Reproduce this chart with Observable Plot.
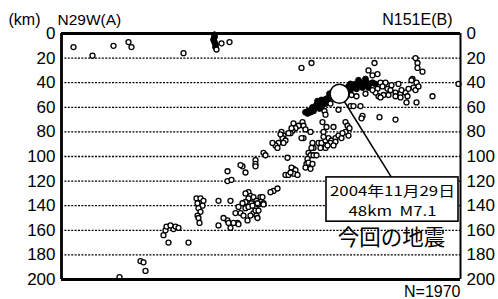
<!DOCTYPE html>
<html><head><meta charset="utf-8">
<script src="https://cdn.jsdelivr.net/npm/d3@7"></script>
<script src="https://cdn.jsdelivr.net/npm/@observablehq/plot@0.6"></script>
<style>body{margin:0;background:#fff} svg{display:block}</style>
</head><body><div id="chart"></div>
<script>
// depth axis (km)
const depthTicks = [0, 20, 40, 60, 80, 100, 120, 140, 160, 180, 200];
const gridDepths = [20, 40, 60, 80, 100, 120, 140, 160, 180];
// hypocentres: [distance along section A->B, depth km]
const eventPoints = [
  [12,11],[31,18],[52,10],[67,7],[70,11],[122,16],[160,8],[168,7],[155,13],
  [240,28],[250,24],[313,24],[307,30],[311,34],[316,33],[354,20],[356,24],[356,28],[361,31],[351,37],[355,40],[352,44],[354,46],[397,41],[371,51],[355,56],[345,56],
  [319,40],[324,40],[321,43],[316,45],[326,45],[329,46],[334,48],[339,49],[344,48],[346,51],[327,50],[322,50],[317,51],[334,51],[330,42],[340,46],[347,45],[339,52],[319,52],[314,48],[350,38],[357,43],[337,41],[311,46],[304,49],
  [269,57],[263,63],[264,66],[277,62],[290,50],[295,51],[289,59],[292,59],[299,59],[301,67],[300,69],[318,68],[334,70],[241,72],[242,75],[244,78],[261,72],[265,76],[272,76],[284,72],[286,75],[288,77],[262,80],[242,85],[251,89],
  [257,89],[260,89],[264,87],[267,85],[270,87],[274,85],[277,83],[280,85],[269,89],[274,88],[264,93],[259,93],[284,80],[287,83],[252,93],[266,91],[272,91],[281,81],[262,84],
  [232,73],[237,75],[234,77],[231,79],[229,81],[222,83],[221,85],[224,87],[217,89],[214,91],[211,89],[216,93],[222,89],[227,81],[230,77],[220,80],[219,82],[249,80],[250,93],[240,85],
  [202,97],[204,99],[194,103],[194,106],[194,108],[181,108],[226,101],[232,110],[166,112],[166,120],[170,119],[179,107],[184,113],
  [247,97],[249,99],[252,99],[255,99],[246,102],[245,106],[244,109],[247,105],[251,106],[249,110],[230,109],[234,111],[232,114],[224,115],[227,115],[229,113],[236,115],
  [212,128],[216,126],[209,129],
  [187,129],[189,132],[192,133],[195,136],[199,133],[202,138],[190,138],[194,142],[197,139],[192,146],[195,148],[189,148],[187,134],[184,137],[181,138],[177,141],[174,146],[179,146],[184,142],[187,141],[191,140],[196,138],[201,133],[202,139],[194,144],[197,144],[196,150],[186,152],[182,148],[176,154],[166,152],[162,150],[157,156],[167,154],[169,158],[177,155],[157,136],[169,136],[184,130],[172,154],
  [135,134],[139,134],[142,136],[136,138],[141,140],[137,142],[139,145],[136,148],[137,150],[138,154],
  [102,164],[104,160],[105,157],[107,170],[112,159],[114,157],[117,158],[109,156],[127,170],
  [58,198],[79,185],[82,186],[84,193]
];
// densely overlapping hypocentres (appear solid black)
const densePoints = [
  [153,1],[153,3],[152,5],[153,7],[154,9],[154,11],
  [244,64],[247,63],[250,62],[249,64],[253,60],[255,58],[257,59],[259,56],[261,58],[263,54],[265,53],[267,55],[269,51],[271,50],[268,49],[273,46],[252,63],[246,65],[260,54],[256,55],[251,60],[258,61],[264,57],
  [287,43],[289,41],[292,43],[294,41],[297,42],[299,40],[302,41],[305,40],[308,41],[311,40],[314,41],[289,46],[295,45],[301,44],[285,46],[283,45],[307,44],[297,38],[304,37]
];
const mainShock = [{dist: 278, depth: 49}];
const calloutLink = [{x1: 278, y1: 49, x2: 330, y2: 117}];
const calloutBox = [{x1: 265, x2: 397, y1: 117, y2: 153}];
const calloutLines = ["2004年11月29日", "48km\u00a0\u00a0M7.1"];
const calloutDepths = [128.6, 144.6];
const quakeLabel = ["今回の地震"];
const unitLabel = ["(km)"];
const leftEnd = ["N29W(A)"];
const rightEnd = ["N151E(B)"];
const countLabel = ["N=1970"];

const ev = eventPoints.map(([dist, depth]) => ({dist, depth}));
const dn = densePoints.map(([dist, depth]) => ({dist, depth}));
const lines = calloutLines.map((t, i) => ({t, dist: 331, depth: calloutDepths[i]}));

const sans = "'Liberation Sans', Arial, sans-serif";
const chart = Plot.plot({
  width: 498, height: 299,
  marginLeft: 61, marginRight: 38, marginTop: 33, marginBottom: 20,
  x: {domain: [0, 399], axis: null},
  y: {domain: [0, 200], reverse: true, axis: null},
  style: {fontFamily: sans, background: "#fff", color: "#000", overflow: "visible"},
  marks: [
    Plot.ruleY(gridDepths, {stroke: "#000", strokeWidth: 1.3, strokeDasharray: "2,1.4"}),
    Plot.axisY({anchor: "left", ticks: depthTicks, tickSize: 0, tickPadding: 6, fontSize: 17, label: null}),
    Plot.axisY({anchor: "right", ticks: depthTicks, tickSize: 0, tickPadding: 6, fontSize: 17, label: null}),
    Plot.dot(dn, {x: "dist", y: "depth", r: 2.9, fill: "#000", stroke: "#000", strokeWidth: 1}),
    Plot.dot(ev, {x: "dist", y: "depth", r: 2.5, fill: "#fff", stroke: "#000", strokeWidth: 1.3}),
    Plot.link(calloutLink, {x1: "x1", y1: "y1", x2: "x2", y2: "y2", stroke: "#000", strokeWidth: 1.5}),
    Plot.dot(mainShock, {x: "dist", y: "depth", r: 9.5, fill: "#fff", stroke: "#000", strokeWidth: 1.6}),
    Plot.rect(calloutBox, {x1: "x1", x2: "x2", y1: "y1", y2: "y2", fill: "#fff", stroke: "#000", strokeWidth: 1.6}),
    Plot.text(lines, {x: "dist", y: "depth", text: "t", fontSize: 13.5, fontFamily: "'Noto Sans CJK JP', sans-serif", fill: "#000"}),
    Plot.text(quakeLabel, {x: 330, y: 166.5, text: d => d, fontSize: 21.5, fontFamily: "'Noto Sans CJK JP', sans-serif", fill: "#000"}),
    Plot.ruleY([0], {stroke: "#000", strokeWidth: 2.8}),
    Plot.ruleY([200], {stroke: "#000", strokeWidth: 2.8}),
    Plot.ruleX([0], {stroke: "#000", strokeWidth: 2.8}),
    Plot.ruleX([399], {stroke: "#000", strokeWidth: 2}),
    Plot.text(unitLabel, {frameAnchor: "top-left", text: d => d, dx: -53, dy: -9, lineAnchor: "bottom", textAnchor: "start", fontSize: 16}),
    Plot.text(leftEnd, {frameAnchor: "top-left", text: d => d, dx: -4, dy: -9, lineAnchor: "bottom", textAnchor: "start", fontSize: 15.5}),
    Plot.text(rightEnd, {frameAnchor: "top-right", text: d => d, dx: -8, dy: -9, lineAnchor: "bottom", textAnchor: "end", fontSize: 16}),
    Plot.text(countLabel, {frameAnchor: "bottom-right", text: d => d, dx: 0, dy: 17, lineAnchor: "bottom", textAnchor: "end", fontSize: 16})
  ]
});
document.getElementById("chart").appendChild(chart);
// condense callout lines like the original narrow typeface
const widths = {"2004年11月29日": 125, "48km\u00a0\u00a0M7.1": 88};
d3.select(chart).selectAll("text").each(function() {
  const t = this.textContent;
  if (widths[t]) { this.setAttribute("textLength", widths[t]); this.setAttribute("lengthAdjust", "spacingAndGlyphs"); }
});
</script></body></html>
